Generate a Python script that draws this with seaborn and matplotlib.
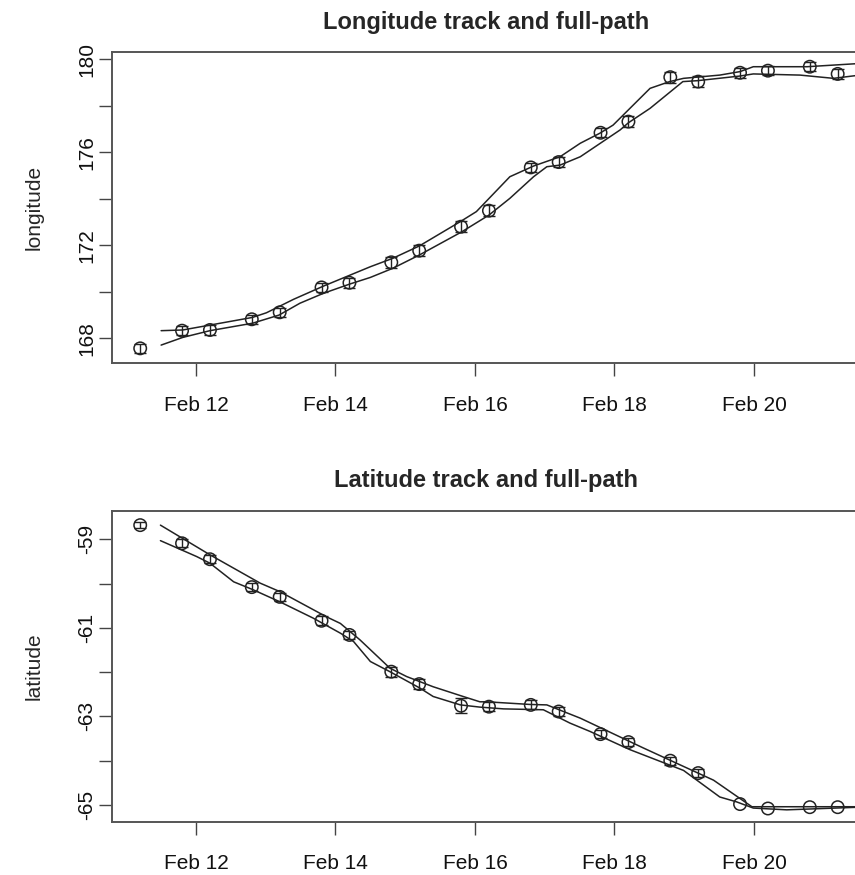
import numpy as np
import pandas as pd
import matplotlib
matplotlib.use("Agg")
import matplotlib.pyplot as plt
import seaborn as sns

# ---------------- data ----------------
obs_day = [11.2, 11.8, 12.2, 12.8, 13.2, 13.8, 14.2, 14.8, 15.2, 15.8, 16.2,
           16.8, 17.2, 17.8, 18.2, 18.8, 19.2, 19.8, 20.2, 20.8, 21.2]
obs_lon = [167.57, 168.33, 168.36, 168.82, 169.12, 170.19, 170.39, 171.27, 171.77,
           172.80, 173.49, 175.35, 175.58, 176.84, 177.32, 179.23, 179.04, 179.42,
           179.51, 179.68, 179.37]
obs_lon_err = [0.20, 0.20, 0.20, 0.20, 0.20, 0.20, 0.22, 0.24, 0.24, 0.24, 0.24,
               0.20, 0.20, 0.20, 0.24, 0.24, 0.22, 0.22, 0.18, 0.20, 0.20]
obs_lat = [-58.68, -59.09, -59.45, -60.08, -60.30, -60.84, -61.16, -61.99, -62.27,
           -62.76, -62.78, -62.74, -62.89, -63.40, -63.58, -64.00, -64.28, -64.98,
           -65.08, -65.05, -65.05]
obs_lat_err = [0.07, 0.09, 0.09, 0.09, 0.09, 0.10, 0.10, 0.11, 0.11, 0.17, 0.10,
               0.10, 0.10, 0.09, 0.09, 0.09, 0.09, 0.0, 0.0, 0.0, 0.0]

lon_a_day = [11.50, 11.81, 12.81, 13.01, 13.40, 13.83, 14.50, 14.82, 15.20, 15.79,
             16.02, 16.50, 16.84, 17.22, 17.51, 17.79, 17.98, 18.51, 18.79, 18.99,
             19.51, 19.80, 19.99, 20.76, 21.52]
lon_a = [168.33, 168.36, 168.90, 169.10, 169.68, 170.25, 171.08, 171.44, 171.97,
         173.02, 173.45, 174.95, 175.41, 175.81, 176.39, 176.82, 177.17, 178.75,
         179.04, 179.18, 179.32, 179.47, 179.68, 179.68, 179.82]
lon_b_day = [11.50, 11.81, 12.20, 12.81, 13.19, 13.49, 13.83, 14.21, 14.50, 14.82,
             15.20, 15.81, 16.20, 16.50, 16.84, 17.03, 17.22, 17.51, 18.08, 18.20,
             18.51, 18.98, 19.19, 19.80, 19.99, 20.66, 21.14, 21.52]
lon_b = [167.71, 168.04, 168.33, 168.65, 169.00, 169.51, 169.94, 170.34, 170.62,
         171.01, 171.58, 172.58, 173.30, 174.02, 174.95, 175.38, 175.45, 175.81,
         176.96, 177.27, 177.89, 179.04, 179.08, 179.28, 179.37, 179.32, 179.18, 179.32]

lat_a_day = [11.49, 12.20, 12.92, 13.20, 13.87, 14.07, 14.35, 14.78, 15.02, 15.40,
             15.83, 16.07, 16.17, 16.79, 17.03, 17.51, 18.41, 18.99, 19.42, 19.97, 21.52]
lat_a = [-58.68, -59.35, -59.99, -60.18, -60.75, -60.90, -61.27, -61.91, -62.10,
         -62.33, -62.55, -62.67, -62.67, -62.73, -62.74, -63.04, -63.71, -64.13,
         -64.44, -65.04, -65.04]
lat_b_day = [11.49, 12.01, 12.20, 12.54, 12.82, 13.20, 13.68, 14.07, 14.26, 14.50,
             14.78, 15.21, 15.40, 15.79, 16.07, 16.41, 16.98, 17.36, 17.65, 18.22,
             18.99, 19.51, 19.75, 19.99, 20.47, 21.52]
lat_b = [-59.03, -59.39, -59.54, -59.96, -60.14, -60.41, -60.78, -61.12, -61.31,
         -61.76, -61.99, -62.36, -62.55, -62.74, -62.79, -62.83, -62.85, -63.15,
         -63.34, -63.75, -64.22, -64.82, -64.93, -65.07, -65.11, -65.05]

x_ticks = [12, 14, 16, 18, 20]
x_ticklabels = ["Feb 12", "Feb 14", "Feb 16", "Feb 18", "Feb 20"]
lon_ticks = [168, 170, 172, 174, 176, 178, 180]
lon_ticklabels = ["168", "", "172", "", "176", "", "180"]
lat_ticks = [-65, -64, -63, -62, -61, -60, -59]
lat_ticklabels = ["-65", "", "-63", "", "-61", "", "-59"]

# ---------------- style ----------------
sns.set_style("ticks")
plt.rcParams["font.family"] = ["Liberation Sans", "DejaVu Sans"]

W, H = 855, 875
fig = plt.figure(figsize=(W / 100, H / 100), dpi=100)

def make_axes(top_px, bottom_px):
    left_px, right_px = 112.3, 860.0
    return fig.add_axes([left_px / W, 1 - bottom_px / H,
                         (right_px - left_px) / W, (bottom_px - top_px) / H])

ax1 = make_axes(52.3, 363.0)
ax2 = make_axes(510.7, 821.7)

LINE = "#222222"

def panel(ax, a_day, a_val, b_day, b_val, obs_y, obs_err, ylim, yticks, yticklabels,
          title, ylabel):
    da = pd.DataFrame({"day": a_day, "val": a_val})
    db = pd.DataFrame({"day": b_day, "val": b_val})
    sns.lineplot(data=da, x="day", y="val", ax=ax, color=LINE, lw=1.1, sort=False,
                 estimator=None)
    sns.lineplot(data=db, x="day", y="val", ax=ax, color=LINE, lw=1.1, sort=False,
                 estimator=None)
    dobs = pd.DataFrame({"day": obs_day, "val": obs_y, "err": obs_err})
    de = dobs[dobs["err"] > 0]
    ax.errorbar(de["day"], de["val"], yerr=de["err"], fmt="none", ecolor=LINE,
                elinewidth=1.0, capsize=4, capthick=1.0, zorder=3)
    sns.scatterplot(data=dobs, x="day", y="val", ax=ax, marker="o", s=80,
                    facecolor="none", edgecolor=LINE, linewidth=1.1, zorder=4)
    ax.set_xlim(10.80, 21.52)
    ax.set_ylim(*ylim)
    ax.set_xticks(x_ticks)
    ax.set_xticklabels(x_ticklabels)
    ax.set_yticks(yticks)
    ax.set_yticklabels(yticklabels, rotation=90, va="center")
    ax.set_xlabel("")
    ax.set_ylabel(ylabel, fontsize=15, labelpad=24)
    ax.set_title(title, fontsize=17, fontweight="bold", pad=17)
    ax.tick_params(axis="both", direction="out", length=9.5, width=1.0,
                   color="#444444", labelsize=15, labelcolor="#111111")
    ax.tick_params(axis="x", pad=14)
    ax.tick_params(axis="y", pad=2)
    for s in ax.spines.values():
        s.set_visible(True)
        s.set_color("#555555")
        s.set_linewidth(1.4)

panel(ax1, lon_a_day, lon_a, lon_b_day, lon_b, obs_lon, obs_lon_err,
      (166.94, 180.30), lon_ticks, lon_ticklabels,
      "Longitude track and full-path", "longitude")
panel(ax2, lat_a_day, lat_a, lat_b_day, lat_b, obs_lat, obs_lat_err,
      (-65.378, -58.354), lat_ticks, lat_ticklabels,
      "Latitude track and full-path", "latitude")

fig.savefig("out.png", dpi=100)
